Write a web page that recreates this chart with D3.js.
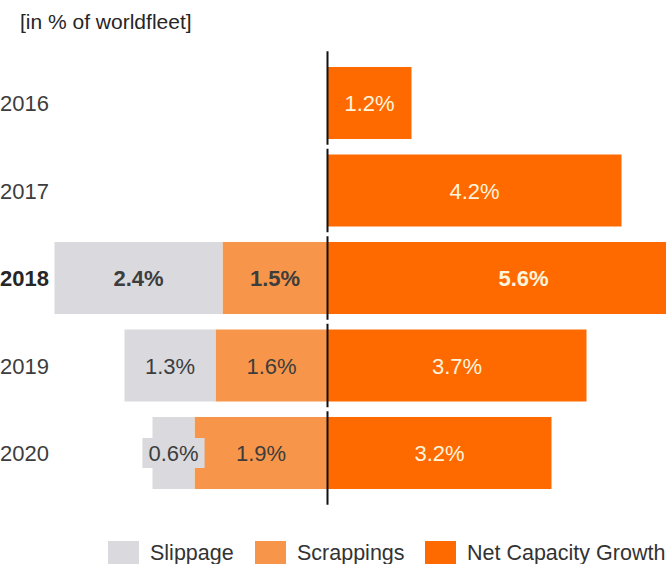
<!DOCTYPE html>
<html>
<head>
<meta charset="utf-8">
<script src="https://cdn.jsdelivr.net/npm/d3@7/dist/d3.min.js"></script>
<style>
  html, body { margin: 0; padding: 0; background: #fff; }
  svg { display: block; font-family: "Liberation Sans", Arial, sans-serif; }
</style>
</head>
<body>
<svg id="chart" width="666" height="564"></svg>
<script>
// Fleet development per year, in % of world fleet
const years = ["2016", "2017", "2018", "2019", "2020"];
const slippage = [null, null, 2.4, 1.3, 0.6];
const scrappings = [null, null, 1.5, 1.6, 1.9];
const netCapacityGrowth = [1.2, 4.2, 5.6, 3.7, 3.2];
const highlightYear = "2018";
const seriesNames = ["Slippage", "Scrappings", "Net Capacity Growth"];
const unitLabel = "[in % of worldfleet]";

const colors = {
  "Slippage": "#d9d9de",
  "Scrappings": "#f7954a",
  "Net Capacity Growth": "#ff6a00"
};
const labelColors = {
  "Slippage": "#3d3d3d",
  "Scrappings": "#3d3d3d",
  "Net Capacity Growth": "#fff4dc"
};

const W = 666, H = 564;
const svg = d3.select("#chart");
const fontSize = 22;

// Percent scale centred on the zero line; negative side holds the stacked reductions
const x = d3.scaleLinear().domain([-4, 4]).range([47.5, 607.5]);
const y = d3.scaleBand().domain(years).range([59.25, 496.75])
  .paddingInner(0.177).paddingOuter(0.0885);

// Build segments: scrappings next to zero, slippage beyond it, growth to the right
const segments = [];
years.forEach((yr, i) => {
  const sc = scrappings[i] || 0;
  const sl = slippage[i] || 0;
  if (scrappings[i] != null) segments.push({ year: yr, series: "Scrappings", x0: -sc, x1: 0, value: sc });
  if (slippage[i] != null) segments.push({ year: yr, series: "Slippage", x0: -(sc + sl), x1: -sc, value: sl });
  segments.push({ year: yr, series: "Net Capacity Growth", x0: 0, x1: netCapacityGrowth[i], value: netCapacityGrowth[i] });
});

// Title
svg.append("text")
  .attr("x", 20).attr("y", 29)
  .attr("font-size", 21).attr("fill", "#262626")
  .text(unitLabel);

// Bars
svg.append("g").selectAll("rect")
  .data(segments)
  .join("rect")
  .attr("x", d => x(d.x0))
  .attr("y", d => y(d.year))
  .attr("width", d => x(d.x1) - x(d.x0))
  .attr("height", y.bandwidth())
  .attr("fill", d => colors[d.series]);

// Zero line, split into one piece per row
const step = y.step();
const rowTop = yr => y(yr) - (step - y.bandwidth()) / 2;
svg.append("g").selectAll("line")
  .data(years)
  .join("line")
  .attr("x1", x(0)).attr("x2", x(0))
  .attr("y1", (d, i) => i === 0 ? rowTop(d) - 8 : rowTop(d) + 2)
  .attr("y2", (d, i) => i === years.length - 1 ? rowTop(d) + step + 8 : rowTop(d) + step - 2)
  .attr("stroke", "#111")
  .attr("stroke-width", 2);

// Value labels (bold for the highlighted year); a backing box is added when the text is wider than its bar
const labels = svg.append("g");
segments.forEach(d => {
  const cx = (x(d.x0) + x(d.x1)) / 2;
  const cy = y(d.year) + y.bandwidth() / 2;
  const bold = d.year === highlightYear;
  const t = labels.append("text")
    .attr("x", cx).attr("y", cy + 8)
    .attr("text-anchor", "middle")
    .attr("font-size", fontSize)
    .attr("font-weight", bold ? "bold" : "normal")
    .attr("fill", labelColors[d.series])
    .text(d3.format(".1f")(d.value) + "%");
  const bb = t.node().getBBox();
  const barW = x(d.x1) - x(d.x0);
  if (bb.width > barW) {
    labels.insert("rect", () => t.node())
      .attr("x", bb.x - 6).attr("y", cy - 15)
      .attr("width", bb.width + 12).attr("height", 30)
      .attr("fill", colors[d.series]);
  }
});

// Year labels
svg.append("g").selectAll("text")
  .data(years)
  .join("text")
  .attr("x", 0)
  .attr("y", d => y(d) + y.bandwidth() / 2 + 8)
  .attr("font-size", fontSize)
  .attr("font-weight", d => d === highlightYear ? "bold" : "normal")
  .attr("fill", d => d === highlightYear ? "#262626" : "#3d3d3d")
  .text(d => d);

// Legend
const legendX = [108, 255, 425];
const legend = svg.append("g").selectAll("g")
  .data(seriesNames)
  .join("g")
  .attr("transform", (d, i) => `translate(${legendX[i]},541)`);
legend.append("rect")
  .attr("width", 31).attr("height", 26)
  .attr("fill", d => colors[d]);
legend.append("text")
  .attr("x", 42).attr("y", 19)
  .attr("font-size", 21.5).attr("fill", "#333")
  .text(d => d);
</script>
</body>
</html>
